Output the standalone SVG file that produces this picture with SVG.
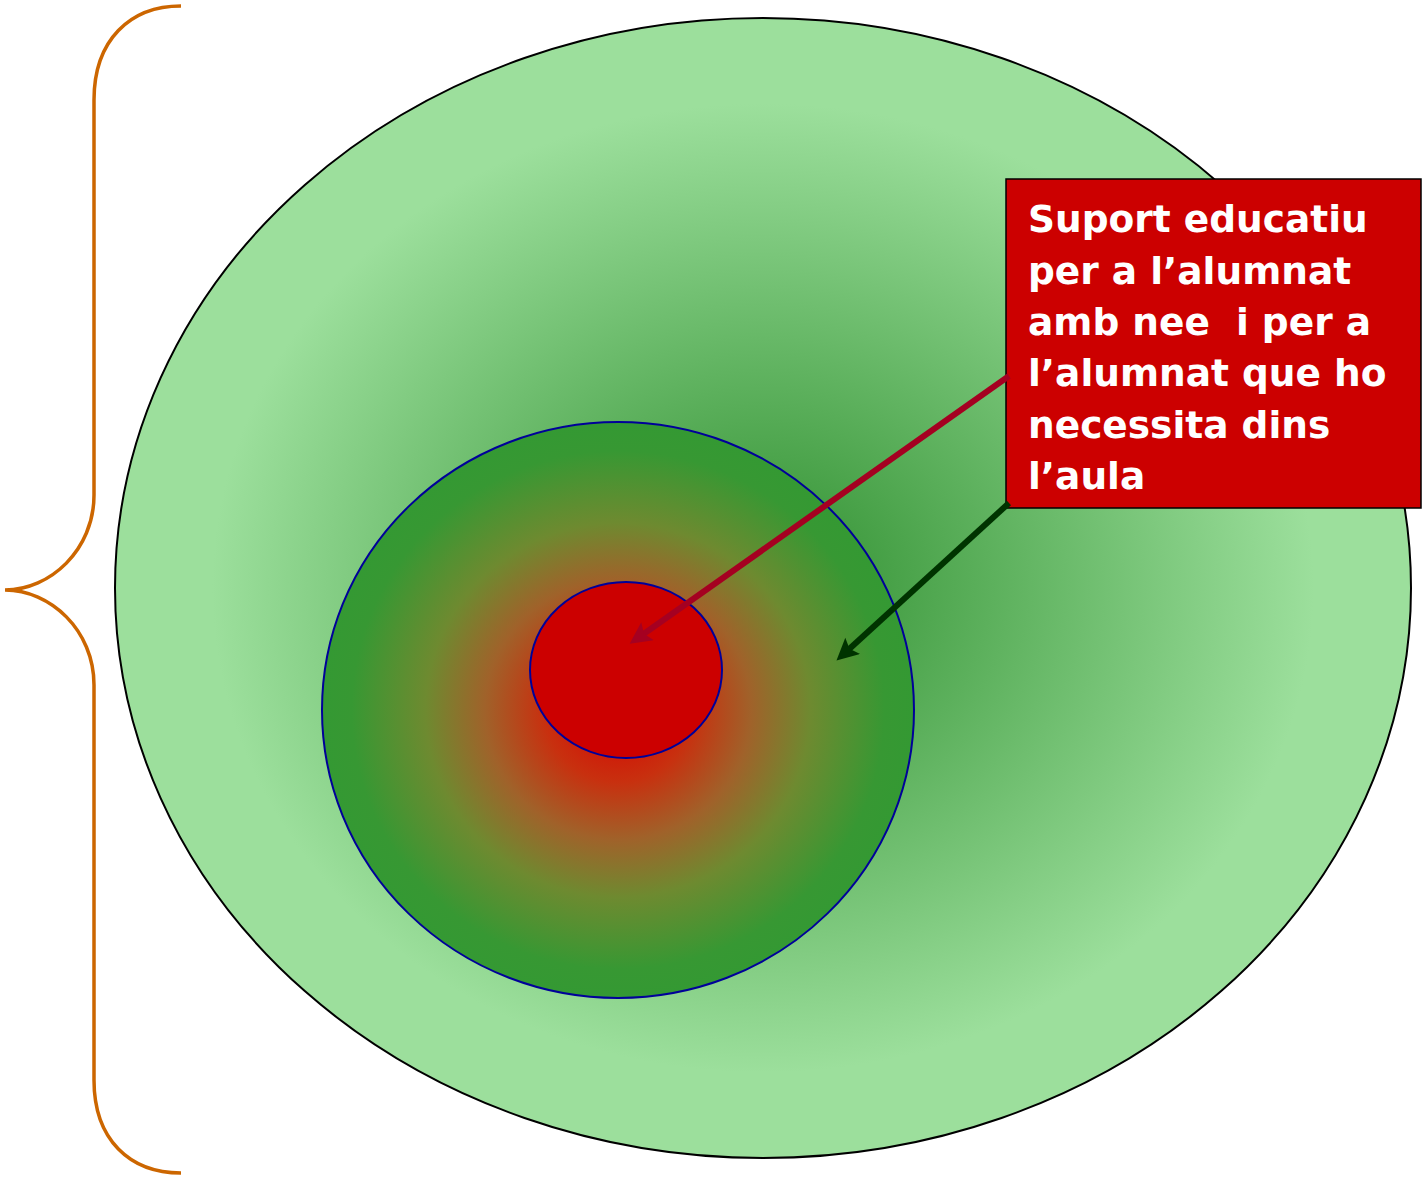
<svg xmlns="http://www.w3.org/2000/svg" width="1422" height="1180" viewBox="0 0 1422 1180">
<style>
.lbl{font-family:"DejaVu Sans","Verdana",sans-serif;font-weight:bold;font-size:37.5px;fill:#ffffff;white-space:pre}
.ring{stroke:#000099;stroke-width:2}
</style>
<defs>
<radialGradient id="gOuter" cx="0.5" cy="0.5" r="0.5">
<stop offset="0" stop-color="#2F8F2F"/>
<stop offset="0.85" stop-color="#9CDF9C"/>
<stop offset="1" stop-color="#9CDF9C"/>
</radialGradient>
<radialGradient id="gInner" cx="0.5" cy="0.5" r="0.5">
<stop offset="0" stop-color="#D80000"/>
<stop offset="0.25" stop-color="#C8300F"/>
<stop offset="0.45" stop-color="#A0622A"/>
<stop offset="0.65" stop-color="#6E8A30"/>
<stop offset="0.9" stop-color="#379833"/>
<stop offset="1" stop-color="#349933"/>
</radialGradient>
<marker id="ahRed" viewBox="0 0 10 10" refX="5" refY="5" markerUnits="userSpaceOnUse" markerWidth="26" markerHeight="22" orient="auto">
<path d="M0,0 L10,5 L0,10 L2,5 Z" fill="#A50021"/>
</marker>
<marker id="ahGreen" viewBox="0 0 10 10" refX="5" refY="5" markerUnits="userSpaceOnUse" markerWidth="26" markerHeight="22" orient="auto">
<path d="M0,0 L10,5 L0,10 L2,5 Z" fill="#003300"/>
</marker>
</defs>
<g id="brace">
<path d="M181,6 C130,6 94,40 94,100 L94,495 C94,550 50,590 5,590 C50,590 94,630 94,685 L94,1080 C94,1140 130,1173 181,1173" fill="none" stroke="#CC6600" stroke-width="3.5"/>
</g>
<g id="outer">
<ellipse cx="763" cy="588" rx="648" ry="570" fill="url(#gOuter)" stroke="#000000" stroke-width="2"/>
</g>
<g id="inner">
<ellipse class="ring" cx="618" cy="710" rx="296" ry="288" fill="url(#gInner)"/>
</g>
<g id="core">
<ellipse class="ring" cx="626" cy="670" rx="96" ry="88" fill="#CC0000"/>
</g>
<g id="label">
<rect x="1006" y="179" width="415" height="329" fill="#CC0000" stroke="#000000" stroke-width="1.5"/>
<text class="lbl" x="1028" y="232">Suport educatiu</text>
<text class="lbl" x="1028" y="283.5">per a l’alumnat</text>
<text class="lbl" x="1028" y="335" xml:space="preserve">amb nee  i per a</text>
<text class="lbl" x="1028" y="386">l’alumnat que ho</text>
<text class="lbl" x="1028" y="437.5">necessita dins</text>
<text class="lbl" x="1028" y="489">l’aula</text>
</g>
<g id="connectors">
<line x1="1009" y1="376" x2="638.6" y2="637.5" stroke="#A50021" stroke-width="6" marker-end="url(#ahRed)"/>
<line x1="1009" y1="503" x2="844.6" y2="653.2" stroke="#003300" stroke-width="6" marker-end="url(#ahGreen)"/>
</g>
</svg>
